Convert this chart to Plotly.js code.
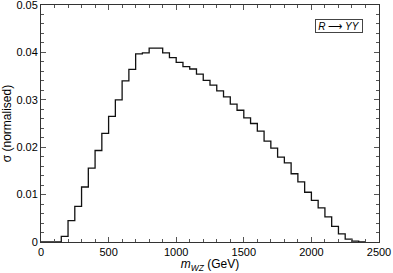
<!DOCTYPE html>
<html><head><meta charset="utf-8">
<script src="https://cdn.plot.ly/plotly-3.0.1.min.js"></script>
<style>html,body{margin:0;padding:0;background:#fff}#c{width:393px;height:273px}</style>
</head><body><div id="c"></div>
<script>
const binLow = [0,50,100,150,200,250,300,350,400,450,500,550,600,650,700,750,800,850,900,950,1000,1050,1100,1150,1200,1250,1300,1350,1400,1450,1500,1550,1600,1650,1700,1750,1800,1850,1900,1950,2000,2050,2100,2150,2200,2250,2300,2350];
const binWidth = 50;
const sigma = [0,0,0,0.0012,0.0045,0.0075,0.0116,0.0156,0.0193,0.0229,0.0265,0.0300,0.0340,0.0364,0.0397,0.0399,0.0409,0.0409,0.0399,0.0389,0.0379,0.0370,0.0365,0.0354,0.0341,0.0331,0.0319,0.0306,0.0291,0.0278,0.0262,0.0250,0.0234,0.0213,0.0198,0.0179,0.0167,0.0144,0.0127,0.0105,0.0088,0.0072,0.0053,0.0033,0.0017,0.0006,0.0002,0];
const xTickVals = [0,500,1000,1500,2000,2500];
const xTickText = ["0","500","1000","1500","2000","2500"];
const yTickVals = [0,0.01,0.02,0.03,0.04,0.05];
const yTickText = ["0","0.01","0.02","0.03","0.04","0.05"];
const legendLabel = "<i>R</i> ⟶ <i>YY</i>";

const xs = binLow.concat([binLow[binLow.length-1] + binWidth]);
const ys = sigma.concat([sigma[sigma.length-1]]);

const font = {family: "Liberation Sans, Arial, sans-serif", size: 11, color: "#000"};
const titleFont = {family: "Liberation Sans, Arial, sans-serif", size: 12, color: "#000"};
const axisCommon = {
  showgrid: false, zeroline: false, showline: true, linecolor: "#333", linewidth: 1,
  mirror: "ticks", ticks: "inside", ticklen: 5, tickcolor: "#555", tickwidth: 1,
  tickfont: font, tickmode: "array", ticklabeloverflow: "allow"
};
Plotly.newPlot("c", [{
  x: xs, y: ys, type: "scatter", mode: "lines",
  line: {shape: "hv", color: "#111", width: 1.3},
  hoverinfo: "skip", showlegend: false
}], {
  width: 393, height: 273,
  margin: {l: 41, r: 14, t: 5, b: 31},
  paper_bgcolor: "#fff", plot_bgcolor: "#fff",
  font: font,
  xaxis: Object.assign({}, axisCommon, {
    range: [0, 2500], tickvals: xTickVals, ticktext: xTickText,
    minor: {dtick: 100, tick0: 0, ticks: "inside", ticklen: 3, tickcolor: "#555"},
    title: {text: "<i>m</i><sub><i>WZ</i></sub> (GeV)", font: titleFont, standoff: 0}
  }),
  yaxis: Object.assign({}, axisCommon, {
    range: [0, 0.05], tickvals: yTickVals, ticktext: yTickText,
    minor: {dtick: 0.002, tick0: 0, ticks: "inside", ticklen: 3, tickcolor: "#555"},
    title: {text: "σ (normalised)", font: titleFont, standoff: 4}
  }),
  annotations: [{
    xref: "paper", yref: "paper", x: 0.953, y: 0.942, xanchor: "right", yanchor: "top",
    text: legendLabel, showarrow: false, font: {family: font.family, size: 10, color: "#000"},
    bordercolor: "#444", borderwidth: 1, borderpad: 0, bgcolor: "#fff", width: 46, height: 12
  }]
}, {displayModeBar: false, staticPlot: true});
</script></body></html>
